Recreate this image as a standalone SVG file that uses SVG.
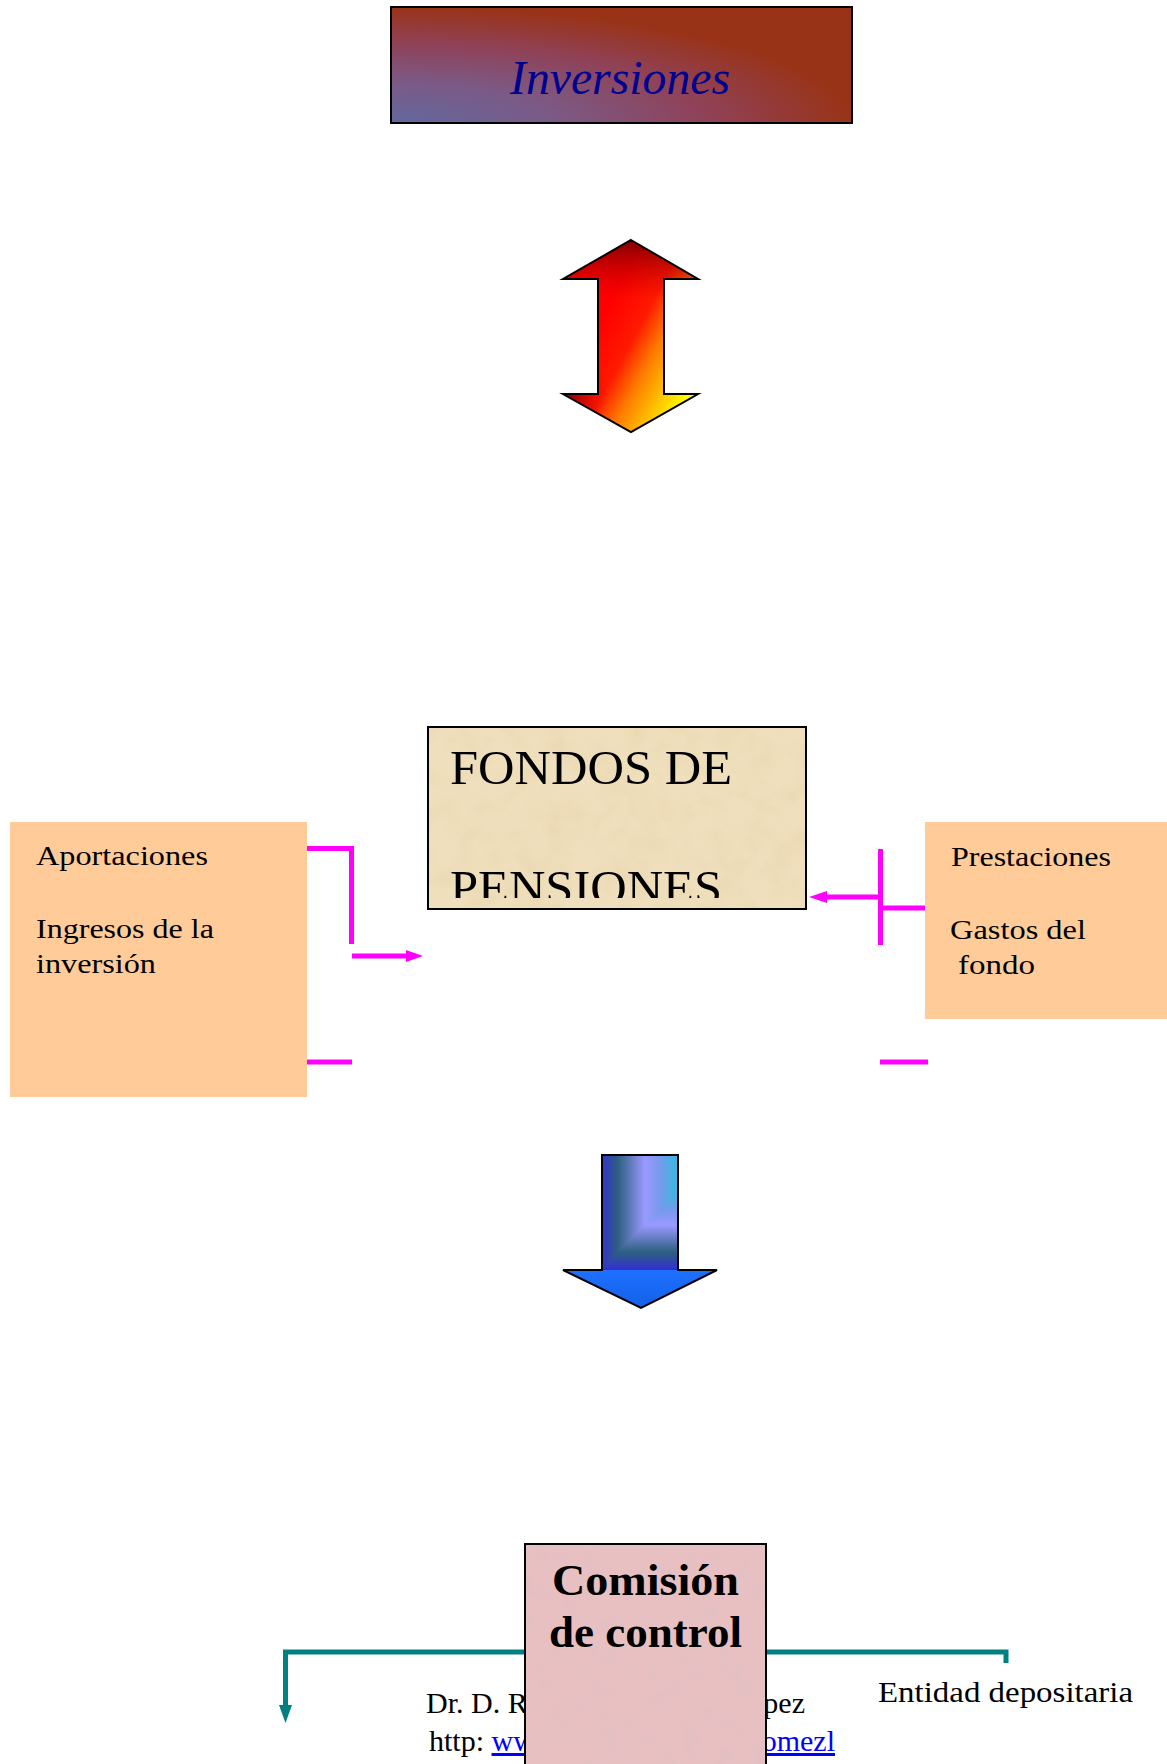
<svg xmlns="http://www.w3.org/2000/svg" width="1167" height="1764" viewBox="0 0 1167 1764">
  <defs>
    <style>
      .serif { font-family: "Liberation Serif", "Times New Roman", serif; }
      .label { font-family: "Liberation Serif", "Times New Roman", serif; font-size: 28px; fill: #000; }
      .flow { fill: none; stroke: #ff00ff; stroke-width: 5; stroke-linejoin: miter; stroke-linecap: butt; }
      .flowhead { fill: #ff00ff; }
      .teal { fill: none; stroke: #008080; stroke-width: 5; stroke-linejoin: miter; }
      .tealhead { fill: #008080; }
      .outline { stroke: #000; stroke-width: 2; stroke-linejoin: miter; }
      .source { fill: #ffcc99; }
      .link { fill: #0000ff; text-decoration: underline; }
    </style>

    <!-- title bar: bluish corner bleeding into brick red -->
    <radialGradient id="titleFill" cx="0" cy="1" r="1" fx="0" fy="1">
      <stop offset="0" stop-color="#62689e"/>
      <stop offset="0.35" stop-color="#7b5a86"/>
      <stop offset="0.68" stop-color="#8f4258"/>
      <stop offset="1" stop-color="#993318"/>
    </radialGradient>

    <!-- fire double arrow -->
    <linearGradient id="fireBase" gradientUnits="userSpaceOnUse" x1="600" y1="320" x2="700" y2="374">
      <stop offset="0" stop-color="#ff0000"/>
      <stop offset="0.33" stop-color="#ff1a00"/>
      <stop offset="0.55" stop-color="#ff7a00"/>
      <stop offset="0.8" stop-color="#ffc400"/>
      <stop offset="1" stop-color="#ffff00"/>
    </linearGradient>
    <linearGradient id="fireTop" gradientUnits="userSpaceOnUse" x1="0" y1="240" x2="0" y2="300">
      <stop offset="0" stop-color="#7a0000" stop-opacity="0.95"/>
      <stop offset="1" stop-color="#cc0000" stop-opacity="0"/>
    </linearGradient>
    <radialGradient id="fireCorner" gradientUnits="userSpaceOnUse" cx="563" cy="394" r="45">
      <stop offset="0" stop-color="#700000" stop-opacity="0.95"/>
      <stop offset="1" stop-color="#cc0000" stop-opacity="0"/>
    </radialGradient>

    <!-- blue down arrow -->
    <linearGradient id="shaftX" gradientUnits="userSpaceOnUse" x1="602" y1="0" x2="678" y2="0">
      <stop offset="0" stop-color="#3333cc"/>
      <stop offset="0.21" stop-color="#2d6080"/>
      <stop offset="0.565" stop-color="#9a99ff"/>
      <stop offset="0.76" stop-color="#7799ee"/>
      <stop offset="1" stop-color="#33bbdd"/>
    </linearGradient>
    <linearGradient id="shaftY" gradientUnits="userSpaceOnUse" x1="0" y1="1192" x2="0" y2="1268">
      <stop offset="0" stop-color="#33bbdd"/>
      <stop offset="0.24" stop-color="#7799ee"/>
      <stop offset="0.435" stop-color="#9a99ff"/>
      <stop offset="0.79" stop-color="#2d6080"/>
      <stop offset="1" stop-color="#3333cc"/>
    </linearGradient>
    <linearGradient id="headFill" gradientUnits="userSpaceOnUse" x1="0" y1="1270" x2="0" y2="1308">
      <stop offset="0" stop-color="#1e70ff"/>
      <stop offset="1" stop-color="#1560e6"/>
    </linearGradient>

    <!-- paper grain for the textured boxes -->
    <filter id="parchment" x="0" y="0" width="1" height="1">
      <feTurbulence type="fractalNoise" baseFrequency="0.035" numOctaves="4" seed="7" result="n"/>
      <feColorMatrix in="n" type="matrix" values="0 0 0 0 0.80  0 0 0 0 0.64  0 0 0 0 0.40  1.1 0 0 0 -0.45" result="c"/>
      <feComposite in="c" in2="SourceGraphic" operator="in"/>
    </filter>
    <filter id="rosegrain" x="0" y="0" width="1" height="1">
      <feTurbulence type="fractalNoise" baseFrequency="0.06" numOctaves="3" seed="3" result="n"/>
      <feColorMatrix in="n" type="matrix" values="0 0 0 0 0.72  0 0 0 0 0.52  0 0 0 0 0.55  1.0 0 0 0 -0.38" result="c"/>
      <feComposite in="c" in2="SourceGraphic" operator="in"/>
    </filter>

    <clipPath id="fondoText">
      <rect x="429" y="728" width="376" height="170"/>
    </clipPath>
  </defs>

  <rect width="1167" height="1764" fill="#ffffff"/>

  <!-- Inversiones -->
  <g id="inversiones">
    <rect x="391" y="7" width="461" height="116" fill="url(#titleFill)" class="outline"/>
    <text x="620" y="94" text-anchor="middle" class="serif" font-style="italic" font-size="48" fill="#000090" textLength="220" lengthAdjust="spacingAndGlyphs">Inversiones</text>
  </g>

  <!-- two-way flow between investments and the fund -->
  <g id="flujo-inversion">
    <path d="M631,240 L698,279 L664,279 L664,394 L698,394 L631,432 L563,394 L598,394 L598,279 L563,279 Z" fill="url(#fireBase)"/>
    <path d="M631,240 L698,279 L664,279 L664,394 L698,394 L631,432 L563,394 L598,394 L598,279 L563,279 Z" fill="url(#fireTop)"/>
    <path d="M631,240 L698,279 L664,279 L664,394 L698,394 L631,432 L563,394 L598,394 L598,279 L563,279 Z" fill="url(#fireCorner)"/>
    <path d="M631,240 L698,279 L664,279 L664,394 L698,394 L631,432 L563,394 L598,394 L598,279 L563,279 Z" fill="none" class="outline"/>
  </g>

  <!-- Fondos de pensiones -->
  <g id="fondos">
    <rect x="428" y="727" width="378" height="182" fill="#efdfbc"/>
    <rect x="428" y="727" width="378" height="182" fill="#000" filter="url(#parchment)"/>
    <rect x="428" y="727" width="378" height="182" fill="none" class="outline"/>
    <g clip-path="url(#fondoText)" class="serif" font-size="48" fill="#000">
      <text x="450" y="784" textLength="282" lengthAdjust="spacingAndGlyphs">FONDOS DE</text>
      <text x="450" y="904" textLength="272" lengthAdjust="spacingAndGlyphs">PENSIONES</text>
    </g>
  </g>

  <!-- inflows -->
  <g id="entradas">
    <rect x="10" y="822" width="297" height="275" class="source"/>
    <text x="36" y="865" class="label" textLength="172" lengthAdjust="spacingAndGlyphs">Aportaciones</text>
    <text x="36" y="938" class="label" textLength="178" lengthAdjust="spacingAndGlyphs">Ingresos de la</text>
    <text x="36" y="973" class="label" textLength="120" lengthAdjust="spacingAndGlyphs">inversión</text>
  </g>

  <!-- outflows -->
  <g id="salidas">
    <rect x="925" y="822" width="242" height="197" class="source"/>
    <text x="951" y="866" class="label" textLength="160" lengthAdjust="spacingAndGlyphs">Prestaciones</text>
    <text x="950" y="939" class="label" textLength="136" lengthAdjust="spacingAndGlyphs">Gastos del</text>
    <text x="958" y="974" class="label" textLength="77" lengthAdjust="spacingAndGlyphs">fondo</text>
  </g>

  <!-- fund to control commission -->
  <g id="flujo-control">
    <rect x="602" y="1155" width="76" height="115" fill="url(#shaftX)"/>
    <polygon points="678,1192 678,1270 602,1270 602,1268" fill="url(#shaftY)"/>
    <polygon points="563,1270 717,1270 641,1308" fill="url(#headFill)"/>
    <path d="M602,1155 L678,1155 L678,1270 L717,1270 L641,1308 L563,1270 L602,1270 Z" fill="none" class="outline"/>
  </g>

  <!-- connectors -->
  <g id="connectors">
    <!-- left side: inflows into the fund -->
    <path class="flow" d="M307,848.5 H351.5 V944"/>
    <path class="flow" d="M352,956 H408"/>
    <polygon class="flowhead" points="406,950 423,956 406,962"/>
    <path class="flow" d="M307,1062 H352"/>
    <!-- right side: outflows from the fund -->
    <path class="flow" d="M880.5,849 V945"/>
    <path class="flow" d="M880,908 H925"/>
    <path class="flow" d="M880,897 H825"/>
    <polygon class="flowhead" points="827,891 809,897 827,903"/>
    <path class="flow" d="M880,1062 H928"/>
    <!-- bottom: control commission bracket -->
    <path class="teal" d="M285.5,1708 V1652 H1006 V1663"/>
    <polygon class="tealhead" points="279,1705 292,1705 285.5,1723"/>
  </g>

  <!-- footer credit -->
  <g id="pie" class="serif" font-size="30" fill="#000">
    <text x="426" y="1713">Dr. D. R</text>
    <text x="805" y="1713" text-anchor="end">pez</text>
    <text x="429" y="1751">http: <tspan class="link">ww</tspan></text>
    <text x="835" y="1751" text-anchor="end" class="link">omezl</text>
  </g>

  <!-- Entidad depositaria -->
  <g id="depositaria">
    <text x="878" y="1702" class="serif" font-size="30" fill="#000" textLength="255" lengthAdjust="spacingAndGlyphs">Entidad depositaria</text>
  </g>

  <!-- Comisión de control -->
  <g id="comision">
    <rect x="525" y="1544" width="241" height="222" fill="#e9c0c2"/>
    <rect x="525" y="1544" width="241" height="222" fill="#000" filter="url(#rosegrain)"/>
    <rect x="525" y="1544" width="241" height="222" fill="none" class="outline"/>
    <text x="645.5" y="1595" text-anchor="middle" class="serif" font-weight="bold" font-size="44" fill="#000" textLength="187" lengthAdjust="spacingAndGlyphs">Comisión</text>
    <text x="645.5" y="1647" text-anchor="middle" class="serif" font-weight="bold" font-size="44" fill="#000" textLength="193" lengthAdjust="spacingAndGlyphs">de control</text>
  </g>
</svg>
